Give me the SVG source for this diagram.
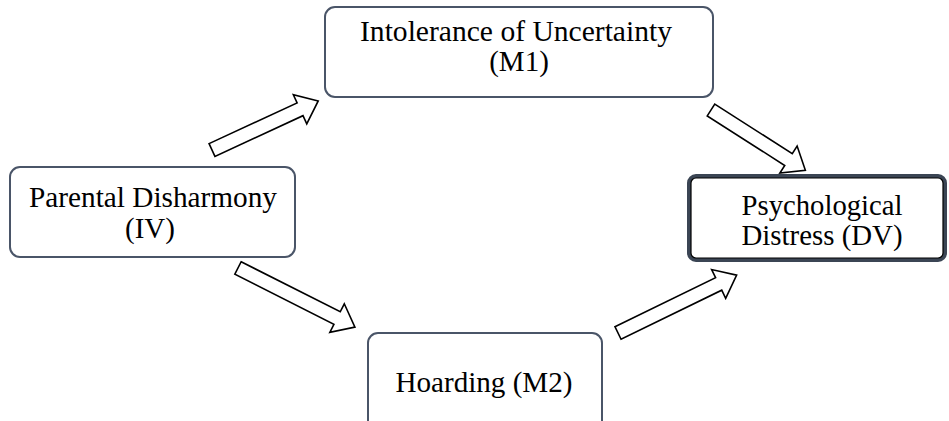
<svg xmlns="http://www.w3.org/2000/svg" width="949" height="421" viewBox="0 0 949 421">
<style>
.box{fill:#fff;stroke:#4a5568;stroke-width:2}
.boxb{fill:#fff;stroke:#3b4554;stroke-width:4}
.t{font-family:"Liberation Serif","Times New Roman",serif;font-size:29px;fill:#000;text-anchor:middle}
.arr{fill:#fff;stroke:#000;stroke-width:1.6;stroke-linejoin:miter}
</style>
<rect width="949" height="421" fill="#fff"/>
<g id="connectors">
<polygon class="arr" transform="translate(212,150) rotate(-24.8)" points="0,-7 97,-7 97,-16 117,0 97,16 97,7 0,7"/>
<polygon class="arr" transform="translate(711,110) rotate(32.6)" points="0,-7 92,-7 92,-16 112,0 92,16 92,7 0,7"/>
<polygon class="arr" transform="translate(238,268) rotate(26.8)" points="0,-7 111,-7 111,-16 131,0 111,16 111,7 0,7"/>
<polygon class="arr" transform="translate(618,333) rotate(-26)" points="0,-7 112,-7 112,-16 132,0 112,16 112,7 0,7"/>
</g>
<g id="m1">
<rect class="box" x="325" y="7" width="388" height="90" rx="10"/>
<text class="t" x="516" y="41" textLength="312" lengthAdjust="spacingAndGlyphs">Intolerance of Uncertainty</text>
<text class="t" x="519" y="71">(M1)</text>
</g>
<g id="iv">
<rect class="box" x="10" y="167" width="285" height="90" rx="10"/>
<text class="t" x="153" y="207" textLength="248" lengthAdjust="spacingAndGlyphs">Parental Disharmony</text>
<text class="t" x="150" y="238">(IV)</text>
</g>
<g id="dv">
<rect class="boxb" x="689" y="176" width="256" height="84" rx="7"/>
<rect x="691" y="178" width="252" height="80" rx="5" fill="none" stroke="#000" stroke-width="1.2"/>
<text class="t" x="822" y="215" textLength="161" lengthAdjust="spacingAndGlyphs">Psychological</text>
<text class="t" x="822" y="245" textLength="161" lengthAdjust="spacingAndGlyphs">Distress (DV)</text>
</g>
<g id="m2">
<rect class="box" x="368" y="333" width="234" height="100" rx="10"/>
<text class="t" x="484" y="392" textLength="177" lengthAdjust="spacingAndGlyphs">Hoarding (M2)</text>
</g>
</svg>
